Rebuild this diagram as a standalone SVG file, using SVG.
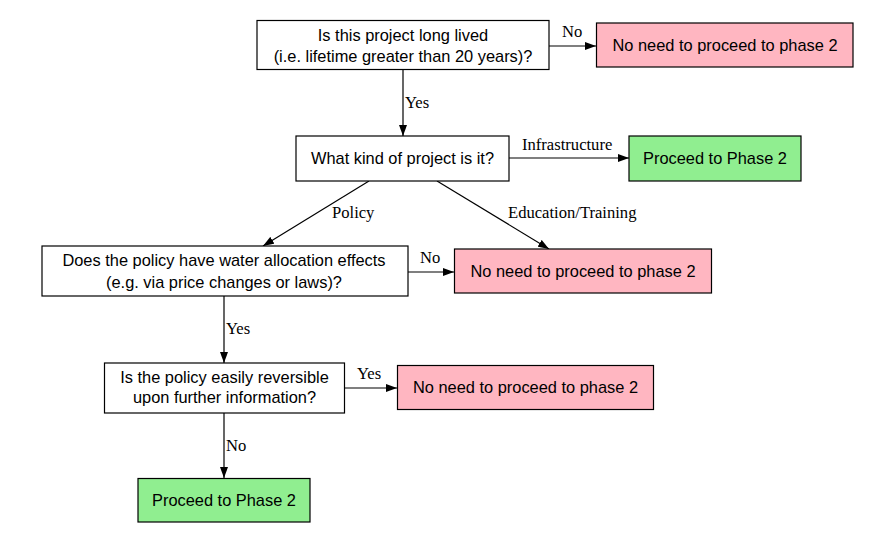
<svg xmlns="http://www.w3.org/2000/svg" width="893" height="541" viewBox="0 0 893 541">
<defs>
<style>
.box{stroke:#000;stroke-width:1.2}
.q{fill:#fff}
.no{fill:#ffb6c1}
.go{fill:#90ee90}
.t{font-family:"Liberation Sans",Arial,sans-serif;font-size:16.4px;fill:#000;text-anchor:middle}
.l{font-family:"Liberation Serif","Times New Roman",serif;font-size:16.6px;fill:#000}
.e{stroke:#000;stroke-width:1.2;fill:none;marker-end:url(#ah)}
</style>
<marker id="ah" viewBox="0 0 11 8" refX="11" refY="4" markerWidth="11" markerHeight="8" markerUnits="userSpaceOnUse" orient="auto">
<path d="M0,0 L11,4 L0,8 Z" fill="#000"/>
</marker>
</defs>
<rect width="893" height="541" fill="#fff"/>
<g id="connectors">
<line class="e" x1="549" y1="46" x2="596" y2="46"/>
<text class="l" x="562" y="37">No</text>
<line class="e" x1="403" y1="70" x2="403" y2="136"/>
<text class="l" x="405" y="108">Yes</text>
<line class="e" x1="509" y1="158" x2="629" y2="158"/>
<text class="l" x="522" y="150">Infrastructure</text>
<line class="e" x1="369" y1="181" x2="263" y2="246"/>
<text class="l" x="332" y="218">Policy</text>
<line class="e" x1="437" y1="181" x2="549" y2="249"/>
<text class="l" x="508" y="218">Education/Training</text>
<line class="e" x1="408" y1="272" x2="454" y2="272"/>
<text class="l" x="420" y="263">No</text>
<line class="e" x1="224" y1="296" x2="224" y2="363"/>
<text class="l" x="226" y="334">Yes</text>
<line class="e" x1="345" y1="388" x2="397" y2="388"/>
<text class="l" x="357" y="379">Yes</text>
<line class="e" x1="224" y1="413" x2="224" y2="478"/>
<text class="l" x="226" y="451">No</text>
</g>
<g id="n1">
<rect class="box q" x="257" y="20.5" width="292" height="49"/>
<text class="t" x="403" y="41">Is this project long lived</text>
<text class="t" x="403" y="62">(i.e. lifetime greater than 20 years)?</text>
</g>
<g id="n1no">
<rect class="box no" x="596.5" y="23" width="256.5" height="44"/>
<text class="t" x="725" y="51">No need to proceed to phase 2</text>
</g>
<g id="n2">
<rect class="box q" x="296" y="136" width="213" height="45"/>
<text class="t" x="402.5" y="164">What kind of project is it?</text>
</g>
<g id="n2go">
<rect class="box go" x="629" y="136" width="172" height="45"/>
<text class="t" x="715" y="164">Proceed to Phase 2</text>
</g>
<g id="n3">
<rect class="box q" x="42" y="246" width="366" height="50"/>
<text class="t" x="224" y="266">Does the policy have water allocation effects</text>
<text class="t" x="224" y="288">(e.g. via price changes or laws)?</text>
</g>
<g id="n3no">
<rect class="box no" x="454.5" y="249" width="257" height="44"/>
<text class="t" x="583" y="277">No need to proceed to phase 2</text>
</g>
<g id="n4">
<rect class="box q" x="104.5" y="363" width="240" height="50"/>
<text class="t" x="224.5" y="383">Is the policy easily reversible</text>
<text class="t" x="224.5" y="403">upon further information?</text>
</g>
<g id="n4no">
<rect class="box no" x="397.5" y="365.5" width="256" height="44"/>
<text class="t" x="525.5" y="393">No need to proceed to phase 2</text>
</g>
<g id="n4go">
<rect class="box go" x="138" y="478.5" width="172" height="43.5"/>
<text class="t" x="224" y="506">Proceed to Phase 2</text>
</g>
</svg>
